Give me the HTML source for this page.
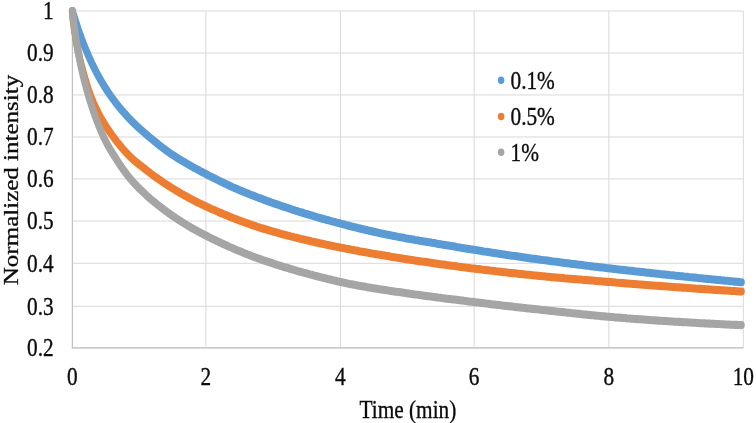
<!DOCTYPE html>
<html><head><meta charset="utf-8"><style>
html,body{margin:0;padding:0;background:#fff;}
body{width:756px;height:423px;overflow:hidden;}
svg{display:block;will-change:transform;}
text{font-family:"Liberation Serif",serif;font-size:21.3px;fill:#0c0c0c;stroke:#0c0c0c;stroke-width:0.3px;}
.g line{stroke:#d9d9d9;stroke-width:1;}
.ax line{stroke:#c2c2c2;stroke-width:1.15;}
.c{fill:none;stroke-width:7.0;stroke-linecap:round;stroke-linejoin:round;}
</style></head><body>
<svg width="756" height="423" viewBox="0 0 756 423">
<rect width="756" height="423" fill="#fff"/>
<g class="g"><line x1="72.4" y1="11.00" x2="743.3" y2="11.00"/><line x1="72.4" y1="53.00" x2="743.3" y2="53.00"/><line x1="72.4" y1="94.95" x2="743.3" y2="94.95"/><line x1="72.4" y1="137.00" x2="743.3" y2="137.00"/><line x1="72.4" y1="178.90" x2="743.3" y2="178.90"/><line x1="72.4" y1="221.00" x2="743.3" y2="221.00"/><line x1="72.4" y1="263.30" x2="743.3" y2="263.30"/><line x1="72.4" y1="306.30" x2="743.3" y2="306.30"/><line x1="72.4" y1="347.90" x2="743.3" y2="347.90"/><line x1="72.40" y1="11.0" x2="72.40" y2="347.9"/><line x1="205.90" y1="11.0" x2="205.90" y2="347.9"/><line x1="340.40" y1="11.0" x2="340.40" y2="347.9"/><line x1="474.15" y1="11.0" x2="474.15" y2="347.9"/><line x1="608.85" y1="11.0" x2="608.85" y2="347.9"/><line x1="743.30" y1="11.0" x2="743.30" y2="347.9"/></g>
<g class="ax"><line x1="72.4" y1="11" x2="72.4" y2="348.5"/><line x1="71.8" y1="347.9" x2="743.3" y2="347.9"/></g>
<g transform="scale(1,1.15)">
<path class="c" stroke="#5b9bd5" d="M72.4 9.6 L72.8 10.7 L73.2 11.9 L73.7 13.1 L74.1 14.3 L74.5 15.5 L74.9 16.7 L75.4 17.8 L75.8 19.0 L76.2 20.1 L76.6 21.3 L77.1 22.4 L77.5 23.5 L77.9 24.6 L78.3 25.7 L78.8 26.8 L79.2 27.8 L79.6 28.9 L80.0 29.9 L80.5 30.9 L80.9 32.0 L81.3 33.0 L81.7 34.0 L82.2 35.0 L82.6 35.9 L83.0 36.9 L83.4 37.9 L83.9 38.8 L84.3 39.7 L84.7 40.7 L85.1 41.6 L85.6 42.5 L86.0 43.4 L86.4 44.3 L86.8 45.2 L87.3 46.0 L87.7 46.9 L88.1 47.8 L88.5 48.6 L89.0 49.4 L89.4 50.3 L89.8 51.1 L90.2 51.9 L90.7 52.7 L91.1 53.5 L91.5 54.3 L91.9 55.1 L92.4 55.9 L92.8 56.6 L93.2 57.4 L93.6 58.1 L94.1 58.9 L94.5 59.6 L94.9 60.4 L95.3 61.1 L95.8 61.8 L96.2 62.5 L96.6 63.2 L97.0 63.9 L97.5 64.6 L97.9 65.3 L98.3 66.0 L98.7 66.6 L99.2 67.3 L99.6 68.0 L100.0 68.6 L100.4 69.3 L100.8 69.9 L101.3 70.5 L101.7 71.2 L102.1 71.8 L102.5 72.4 L103.0 73.0 L103.4 73.6 L103.8 74.2 L104.2 74.8 L104.7 75.4 L105.1 76.0 L105.5 76.6 L105.9 77.2 L107.5 79.3 L109.1 81.4 L110.7 83.4 L112.3 85.3 L113.9 87.2 L115.5 89.1 L117.1 90.8 L118.7 92.6 L120.3 94.3 L121.9 95.9 L123.5 97.5 L125.1 99.1 L126.6 100.6 L128.2 102.1 L129.8 103.6 L131.4 105.0 L133.0 106.4 L134.6 107.7 L136.2 109.1 L137.8 110.4 L139.4 111.6 L141.0 112.9 L142.6 114.1 L144.2 115.3 L145.8 116.5 L147.3 117.7 L148.9 118.8 L150.5 120.0 L152.1 121.1 L153.7 122.3 L155.3 123.4 L156.9 124.5 L158.5 125.7 L160.1 126.8 L161.7 127.8 L163.3 128.9 L164.9 129.9 L166.5 131.0 L168.0 132.0 L169.6 132.9 L171.2 133.9 L172.8 134.8 L174.4 135.7 L176.0 136.6 L177.6 137.5 L179.2 138.3 L180.8 139.2 L182.4 140.0 L184.0 140.8 L185.6 141.6 L187.2 142.4 L188.7 143.2 L190.3 144.0 L191.9 144.8 L193.5 145.6 L195.1 146.3 L196.7 147.1 L198.3 147.8 L199.9 148.6 L201.5 149.3 L203.1 150.0 L204.7 150.8 L206.3 151.5 L207.9 152.2 L209.4 152.9 L211.0 153.6 L212.6 154.3 L214.2 155.0 L215.8 155.7 L217.4 156.4 L219.0 157.1 L220.6 157.8 L222.2 158.4 L223.8 159.1 L225.4 159.8 L227.0 160.4 L228.6 161.1 L230.1 161.7 L231.7 162.4 L233.3 163.0 L234.9 163.6 L236.5 164.2 L238.1 164.8 L239.7 165.4 L241.3 166.0 L242.9 166.5 L244.5 167.1 L246.1 167.7 L247.7 168.2 L249.3 168.8 L250.8 169.3 L252.4 169.9 L254.0 170.4 L255.6 170.9 L257.2 171.5 L258.8 172.0 L260.4 172.5 L262.0 173.0 L263.6 173.6 L265.2 174.1 L266.8 174.6 L268.4 175.1 L270.0 175.6 L271.5 176.1 L273.1 176.6 L274.7 177.1 L276.3 177.5 L277.9 178.0 L279.5 178.5 L281.1 179.0 L282.7 179.4 L284.3 179.9 L285.9 180.4 L287.5 180.8 L289.1 181.3 L290.7 181.7 L292.2 182.2 L293.8 182.6 L295.4 183.1 L297.0 183.5 L298.6 184.0 L300.2 184.4 L301.8 184.8 L303.4 185.2 L305.0 185.7 L306.6 186.1 L308.2 186.5 L309.8 186.9 L311.4 187.3 L312.9 187.8 L314.5 188.2 L316.1 188.6 L317.7 189.0 L319.3 189.4 L320.9 189.8 L322.5 190.2 L324.1 190.5 L325.7 190.9 L327.3 191.3 L328.9 191.7 L330.5 192.1 L332.1 192.5 L333.6 192.8 L335.2 193.2 L336.8 193.6 L338.4 193.9 L340.0 194.3 L341.6 194.7 L343.2 195.0 L344.8 195.4 L346.4 195.8 L348.0 196.1 L349.6 196.5 L351.2 196.8 L352.8 197.2 L354.3 197.5 L355.9 197.8 L357.5 198.2 L359.1 198.5 L360.7 198.9 L362.3 199.2 L363.9 199.5 L365.5 199.8 L367.1 200.2 L368.7 200.5 L370.3 200.8 L371.9 201.1 L373.5 201.5 L375.0 201.8 L376.6 202.1 L378.2 202.4 L379.8 202.7 L381.4 203.0 L383.0 203.3 L384.6 203.6 L386.2 203.9 L387.8 204.2 L389.4 204.4 L391.0 204.7 L392.6 205.0 L394.2 205.3 L395.8 205.5 L397.3 205.8 L398.9 206.1 L400.5 206.3 L402.1 206.6 L403.7 206.8 L405.3 207.1 L406.9 207.3 L408.5 207.6 L410.1 207.8 L411.7 208.1 L413.3 208.3 L414.9 208.6 L416.5 208.8 L418.0 209.0 L419.6 209.3 L421.2 209.5 L422.8 209.8 L424.4 210.0 L426.0 210.2 L427.6 210.5 L429.2 210.7 L430.8 210.9 L432.4 211.2 L434.0 211.4 L435.6 211.6 L437.2 211.9 L438.7 212.1 L440.3 212.3 L441.9 212.6 L443.5 212.8 L445.1 213.0 L446.7 213.3 L448.3 213.5 L449.9 213.7 L451.5 214.0 L453.1 214.2 L454.7 214.4 L456.3 214.7 L457.9 214.9 L459.4 215.1 L461.0 215.4 L462.6 215.6 L464.2 215.9 L465.8 216.1 L467.4 216.3 L469.0 216.5 L470.6 216.8 L472.2 217.0 L473.8 217.2 L475.4 217.4 L477.0 217.7 L478.6 217.9 L480.1 218.1 L481.7 218.3 L483.3 218.6 L484.9 218.8 L486.5 219.0 L488.1 219.2 L489.7 219.4 L491.3 219.6 L492.9 219.9 L494.5 220.1 L496.1 220.3 L497.7 220.5 L499.3 220.7 L500.8 220.9 L502.4 221.1 L504.0 221.3 L505.6 221.5 L507.2 221.7 L508.8 221.9 L510.4 222.1 L512.0 222.3 L513.6 222.5 L515.2 222.7 L516.8 222.9 L518.4 223.1 L520.0 223.3 L521.5 223.5 L523.1 223.7 L524.7 223.9 L526.3 224.1 L527.9 224.3 L529.5 224.5 L531.1 224.7 L532.7 224.9 L534.3 225.1 L535.9 225.3 L537.5 225.5 L539.1 225.7 L540.7 225.9 L542.2 226.0 L543.8 226.2 L545.4 226.4 L547.0 226.6 L548.6 226.8 L550.2 227.0 L551.8 227.2 L553.4 227.3 L555.0 227.5 L556.6 227.7 L558.2 227.9 L559.8 228.1 L561.4 228.2 L562.9 228.4 L564.5 228.6 L566.1 228.8 L567.7 228.9 L569.3 229.1 L570.9 229.3 L572.5 229.5 L574.1 229.6 L575.7 229.8 L577.3 230.0 L578.9 230.2 L580.5 230.3 L582.1 230.5 L583.6 230.7 L585.2 230.8 L586.8 231.0 L588.4 231.2 L590.0 231.4 L591.6 231.5 L593.2 231.7 L594.8 231.9 L596.4 232.0 L598.0 232.2 L599.6 232.4 L601.2 232.5 L602.8 232.7 L604.3 232.8 L605.9 233.0 L607.5 233.2 L609.1 233.3 L610.7 233.5 L612.3 233.7 L613.9 233.8 L615.5 234.0 L617.1 234.1 L618.7 234.3 L620.3 234.5 L621.9 234.6 L623.5 234.8 L625.0 234.9 L626.6 235.1 L628.2 235.2 L629.8 235.4 L631.4 235.5 L633.0 235.7 L634.6 235.9 L636.2 236.0 L637.8 236.2 L639.4 236.3 L641.0 236.5 L642.6 236.6 L644.2 236.8 L645.7 236.9 L647.3 237.1 L648.9 237.2 L650.5 237.4 L652.1 237.5 L653.7 237.7 L655.3 237.8 L656.9 238.0 L658.5 238.1 L660.1 238.3 L661.7 238.4 L663.3 238.6 L664.9 238.7 L666.4 238.9 L668.0 239.0 L669.6 239.2 L671.2 239.3 L672.8 239.4 L674.4 239.6 L676.0 239.7 L677.6 239.9 L679.2 240.0 L680.8 240.2 L682.4 240.3 L684.0 240.5 L685.6 240.6 L687.1 240.7 L688.7 240.9 L690.3 241.0 L691.9 241.2 L693.5 241.3 L695.1 241.4 L696.7 241.6 L698.3 241.7 L699.9 241.9 L701.5 242.0 L703.1 242.1 L704.7 242.3 L706.3 242.4 L707.8 242.6 L709.4 242.7 L711.0 242.8 L712.6 243.0 L714.2 243.1 L715.8 243.2 L717.4 243.4 L719.0 243.5 L720.6 243.6 L722.2 243.8 L723.8 243.9 L725.4 244.1 L727.0 244.2 L728.5 244.3 L730.1 244.5 L731.7 244.6 L733.3 244.7 L734.9 244.9 L736.5 245.0 L738.1 245.1 L739.7 245.3 L741.3 245.4"/>
<path class="c" stroke="#ed7d31" d="M72.4 9.6 L72.8 15.2 L73.2 18.5 L73.7 21.4 L74.1 24.0 L74.5 26.5 L74.9 28.9 L75.4 31.2 L75.8 33.4 L76.2 35.6 L76.6 37.7 L77.1 39.8 L77.5 41.7 L77.9 43.6 L78.3 45.3 L78.8 47.0 L79.2 48.7 L79.6 50.3 L80.0 51.9 L80.5 53.4 L80.9 55.0 L81.3 56.4 L81.7 57.9 L82.2 59.3 L82.6 60.7 L83.0 62.1 L83.4 63.5 L83.9 64.8 L84.3 66.1 L84.7 67.4 L85.1 68.7 L85.6 69.9 L86.0 71.2 L86.4 72.4 L86.8 73.5 L87.3 74.7 L87.7 75.9 L88.1 77.0 L88.5 78.1 L89.0 79.2 L89.4 80.3 L89.8 81.3 L90.2 82.4 L90.7 83.4 L91.1 84.4 L91.5 85.3 L91.9 86.3 L92.4 87.1 L92.8 88.0 L93.2 88.9 L93.6 89.7 L94.1 90.5 L94.5 91.3 L94.9 92.1 L95.3 92.9 L95.8 93.7 L96.2 94.5 L96.6 95.3 L97.0 96.0 L97.5 96.8 L97.9 97.5 L98.3 98.2 L98.7 99.0 L99.2 99.7 L99.6 100.4 L100.0 101.0 L100.4 101.7 L100.8 102.4 L101.3 103.0 L101.7 103.7 L102.1 104.3 L102.5 104.9 L103.0 105.6 L103.4 106.2 L103.8 106.8 L104.2 107.4 L104.7 108.0 L105.1 108.5 L105.5 109.1 L105.9 109.7 L107.5 111.8 L109.1 113.8 L110.7 115.8 L112.3 117.8 L113.9 119.7 L115.5 121.6 L117.1 123.4 L118.7 125.1 L120.3 126.8 L121.9 128.5 L123.5 130.1 L125.1 131.6 L126.6 133.1 L128.2 134.5 L129.8 135.9 L131.4 137.2 L133.0 138.5 L134.6 139.8 L136.2 141.0 L137.8 142.1 L139.4 143.2 L141.0 144.3 L142.6 145.3 L144.2 146.4 L145.8 147.5 L147.3 148.6 L148.9 149.6 L150.5 150.7 L152.1 151.7 L153.7 152.8 L155.3 153.8 L156.9 154.8 L158.5 155.7 L160.1 156.7 L161.7 157.6 L163.3 158.6 L164.9 159.5 L166.5 160.4 L168.0 161.3 L169.6 162.2 L171.2 163.1 L172.8 163.9 L174.4 164.8 L176.0 165.6 L177.6 166.5 L179.2 167.3 L180.8 168.1 L182.4 168.9 L184.0 169.7 L185.6 170.4 L187.2 171.2 L188.7 172.0 L190.3 172.7 L191.9 173.4 L193.5 174.2 L195.1 174.9 L196.7 175.6 L198.3 176.3 L199.9 176.9 L201.5 177.6 L203.1 178.3 L204.7 178.9 L206.3 179.6 L207.9 180.2 L209.4 180.8 L211.0 181.5 L212.6 182.1 L214.2 182.7 L215.8 183.3 L217.4 183.9 L219.0 184.5 L220.6 185.1 L222.2 185.7 L223.8 186.3 L225.4 186.9 L227.0 187.4 L228.6 188.0 L230.1 188.6 L231.7 189.1 L233.3 189.7 L234.9 190.2 L236.5 190.8 L238.1 191.3 L239.7 191.8 L241.3 192.3 L242.9 192.8 L244.5 193.3 L246.1 193.8 L247.7 194.3 L249.3 194.8 L250.8 195.3 L252.4 195.8 L254.0 196.2 L255.6 196.7 L257.2 197.2 L258.8 197.6 L260.4 198.1 L262.0 198.5 L263.6 198.9 L265.2 199.3 L266.8 199.7 L268.4 200.2 L270.0 200.6 L271.5 201.0 L273.1 201.4 L274.7 201.8 L276.3 202.1 L277.9 202.5 L279.5 202.9 L281.1 203.3 L282.7 203.7 L284.3 204.0 L285.9 204.4 L287.5 204.8 L289.1 205.1 L290.7 205.5 L292.2 205.8 L293.8 206.2 L295.4 206.5 L297.0 206.9 L298.6 207.2 L300.2 207.6 L301.8 207.9 L303.4 208.2 L305.0 208.6 L306.6 208.9 L308.2 209.2 L309.8 209.5 L311.4 209.9 L312.9 210.2 L314.5 210.5 L316.1 210.8 L317.7 211.1 L319.3 211.4 L320.9 211.7 L322.5 212.0 L324.1 212.3 L325.7 212.6 L327.3 212.9 L328.9 213.2 L330.5 213.5 L332.1 213.8 L333.6 214.1 L335.2 214.4 L336.8 214.6 L338.4 214.9 L340.0 215.2 L341.6 215.5 L343.2 215.7 L344.8 216.0 L346.4 216.3 L348.0 216.5 L349.6 216.8 L351.2 217.1 L352.8 217.3 L354.3 217.6 L355.9 217.9 L357.5 218.1 L359.1 218.4 L360.7 218.6 L362.3 218.9 L363.9 219.1 L365.5 219.4 L367.1 219.6 L368.7 219.9 L370.3 220.1 L371.9 220.4 L373.5 220.6 L375.0 220.8 L376.6 221.1 L378.2 221.3 L379.8 221.5 L381.4 221.8 L383.0 222.0 L384.6 222.2 L386.2 222.5 L387.8 222.7 L389.4 222.9 L391.0 223.2 L392.6 223.4 L394.2 223.6 L395.8 223.8 L397.3 224.1 L398.9 224.3 L400.5 224.5 L402.1 224.7 L403.7 225.0 L405.3 225.2 L406.9 225.4 L408.5 225.6 L410.1 225.8 L411.7 226.0 L413.3 226.2 L414.9 226.5 L416.5 226.7 L418.0 226.9 L419.6 227.1 L421.2 227.3 L422.8 227.5 L424.4 227.7 L426.0 227.9 L427.6 228.1 L429.2 228.3 L430.8 228.5 L432.4 228.7 L434.0 228.9 L435.6 229.1 L437.2 229.3 L438.7 229.5 L440.3 229.7 L441.9 229.9 L443.5 230.1 L445.1 230.3 L446.7 230.5 L448.3 230.6 L449.9 230.8 L451.5 231.0 L453.1 231.2 L454.7 231.4 L456.3 231.6 L457.9 231.8 L459.4 231.9 L461.0 232.1 L462.6 232.3 L464.2 232.5 L465.8 232.7 L467.4 232.8 L469.0 233.0 L470.6 233.2 L472.2 233.4 L473.8 233.5 L475.4 233.7 L477.0 233.9 L478.6 234.0 L480.1 234.2 L481.7 234.4 L483.3 234.5 L484.9 234.7 L486.5 234.9 L488.1 235.0 L489.7 235.2 L491.3 235.4 L492.9 235.5 L494.5 235.7 L496.1 235.9 L497.7 236.0 L499.3 236.2 L500.8 236.3 L502.4 236.5 L504.0 236.7 L505.6 236.8 L507.2 237.0 L508.8 237.1 L510.4 237.3 L512.0 237.4 L513.6 237.6 L515.2 237.7 L516.8 237.9 L518.4 238.0 L520.0 238.2 L521.5 238.3 L523.1 238.5 L524.7 238.6 L526.3 238.8 L527.9 238.9 L529.5 239.0 L531.1 239.2 L532.7 239.3 L534.3 239.5 L535.9 239.6 L537.5 239.8 L539.1 239.9 L540.7 240.0 L542.2 240.2 L543.8 240.3 L545.4 240.4 L547.0 240.6 L548.6 240.7 L550.2 240.8 L551.8 241.0 L553.4 241.1 L555.0 241.2 L556.6 241.3 L558.2 241.5 L559.8 241.6 L561.4 241.7 L562.9 241.8 L564.5 242.0 L566.1 242.1 L567.7 242.2 L569.3 242.3 L570.9 242.4 L572.5 242.6 L574.1 242.7 L575.7 242.8 L577.3 242.9 L578.9 243.0 L580.5 243.1 L582.1 243.2 L583.6 243.4 L585.2 243.5 L586.8 243.6 L588.4 243.7 L590.0 243.8 L591.6 243.9 L593.2 244.0 L594.8 244.2 L596.4 244.3 L598.0 244.4 L599.6 244.5 L601.2 244.6 L602.8 244.7 L604.3 244.8 L605.9 245.0 L607.5 245.1 L609.1 245.2 L610.7 245.3 L612.3 245.4 L613.9 245.5 L615.5 245.7 L617.1 245.8 L618.7 245.9 L620.3 246.0 L621.9 246.1 L623.5 246.2 L625.0 246.3 L626.6 246.5 L628.2 246.6 L629.8 246.7 L631.4 246.8 L633.0 246.9 L634.6 247.0 L636.2 247.1 L637.8 247.2 L639.4 247.3 L641.0 247.4 L642.6 247.6 L644.2 247.7 L645.7 247.8 L647.3 247.9 L648.9 248.0 L650.5 248.1 L652.1 248.2 L653.7 248.3 L655.3 248.4 L656.9 248.5 L658.5 248.6 L660.1 248.7 L661.7 248.8 L663.3 248.9 L664.9 249.0 L666.4 249.1 L668.0 249.2 L669.6 249.3 L671.2 249.4 L672.8 249.5 L674.4 249.6 L676.0 249.7 L677.6 249.8 L679.2 249.9 L680.8 250.0 L682.4 250.1 L684.0 250.2 L685.6 250.3 L687.1 250.4 L688.7 250.5 L690.3 250.6 L691.9 250.7 L693.5 250.8 L695.1 250.9 L696.7 251.0 L698.3 251.1 L699.9 251.2 L701.5 251.2 L703.1 251.3 L704.7 251.4 L706.3 251.5 L707.8 251.6 L709.4 251.7 L711.0 251.8 L712.6 251.9 L714.2 252.0 L715.8 252.1 L717.4 252.2 L719.0 252.3 L720.6 252.3 L722.2 252.4 L723.8 252.5 L725.4 252.6 L727.0 252.7 L728.5 252.8 L730.1 252.9 L731.7 253.0 L733.3 253.0 L734.9 253.1 L736.5 253.2 L738.1 253.3 L739.7 253.4 L741.3 253.5"/>
<path class="c" stroke="#a5a5a5" d="M72.4 9.6 L72.8 12.7 L73.2 16.0 L73.7 19.1 L74.1 22.0 L74.5 24.9 L74.9 27.6 L75.4 30.2 L75.8 32.7 L76.2 35.2 L76.6 37.5 L77.1 39.8 L77.5 41.9 L77.9 44.0 L78.3 46.1 L78.8 48.1 L79.2 50.0 L79.6 51.9 L80.0 53.7 L80.5 55.5 L80.9 57.2 L81.3 58.9 L81.7 60.6 L82.2 62.2 L82.6 63.8 L83.0 65.4 L83.4 66.9 L83.9 68.4 L84.3 69.9 L84.7 71.3 L85.1 72.8 L85.6 74.2 L86.0 75.5 L86.4 76.9 L86.8 78.2 L87.3 79.5 L87.7 80.8 L88.1 82.1 L88.5 83.4 L89.0 84.6 L89.4 85.8 L89.8 87.1 L90.2 88.2 L90.7 89.4 L91.1 90.6 L91.5 91.7 L91.9 92.9 L92.4 94.0 L92.8 95.1 L93.2 96.2 L93.6 97.3 L94.1 98.3 L94.5 99.4 L94.9 100.4 L95.3 101.4 L95.8 102.5 L96.2 103.5 L96.6 104.4 L97.0 105.4 L97.5 106.4 L97.9 107.3 L98.3 108.3 L98.7 109.2 L99.2 110.1 L99.6 111.0 L100.0 111.9 L100.4 112.8 L100.8 113.7 L101.3 114.5 L101.7 115.4 L102.1 116.2 L102.5 117.0 L103.0 117.9 L103.4 118.7 L103.8 119.5 L104.2 120.2 L104.7 121.0 L105.1 121.7 L105.5 122.5 L105.9 123.2 L107.5 125.8 L109.1 128.2 L110.7 130.6 L112.3 132.9 L113.9 135.1 L115.5 137.3 L117.1 139.5 L118.7 141.7 L120.3 143.8 L121.9 145.8 L123.5 147.7 L125.1 149.6 L126.6 151.4 L128.2 153.2 L129.8 154.9 L131.4 156.5 L133.0 158.1 L134.6 159.7 L136.2 161.2 L137.8 162.6 L139.4 164.0 L141.0 165.4 L142.6 166.7 L144.2 168.0 L145.8 169.3 L147.3 170.6 L148.9 171.8 L150.5 173.0 L152.1 174.1 L153.7 175.3 L155.3 176.4 L156.9 177.6 L158.5 178.7 L160.1 179.7 L161.7 180.8 L163.3 181.9 L164.9 182.9 L166.5 183.9 L168.0 184.9 L169.6 185.9 L171.2 186.9 L172.8 187.8 L174.4 188.8 L176.0 189.7 L177.6 190.6 L179.2 191.5 L180.8 192.4 L182.4 193.3 L184.0 194.2 L185.6 195.0 L187.2 195.9 L188.7 196.7 L190.3 197.5 L191.9 198.3 L193.5 199.1 L195.1 199.9 L196.7 200.6 L198.3 201.4 L199.9 202.1 L201.5 202.9 L203.1 203.6 L204.7 204.3 L206.3 205.0 L207.9 205.7 L209.4 206.4 L211.0 207.1 L212.6 207.8 L214.2 208.4 L215.8 209.1 L217.4 209.8 L219.0 210.4 L220.6 211.1 L222.2 211.7 L223.8 212.4 L225.4 213.0 L227.0 213.6 L228.6 214.3 L230.1 214.9 L231.7 215.5 L233.3 216.1 L234.9 216.7 L236.5 217.3 L238.1 217.9 L239.7 218.4 L241.3 219.0 L242.9 219.6 L244.5 220.2 L246.1 220.7 L247.7 221.3 L249.3 221.8 L250.8 222.3 L252.4 222.9 L254.0 223.4 L255.6 223.9 L257.2 224.4 L258.8 224.9 L260.4 225.4 L262.0 225.9 L263.6 226.4 L265.2 226.8 L266.8 227.3 L268.4 227.8 L270.0 228.2 L271.5 228.7 L273.1 229.1 L274.7 229.6 L276.3 230.0 L277.9 230.5 L279.5 230.9 L281.1 231.3 L282.7 231.8 L284.3 232.2 L285.9 232.6 L287.5 233.0 L289.1 233.5 L290.7 233.9 L292.2 234.3 L293.8 234.7 L295.4 235.1 L297.0 235.5 L298.6 235.9 L300.2 236.3 L301.8 236.7 L303.4 237.1 L305.0 237.4 L306.6 237.8 L308.2 238.2 L309.8 238.6 L311.4 238.9 L312.9 239.3 L314.5 239.7 L316.1 240.0 L317.7 240.4 L319.3 240.7 L320.9 241.1 L322.5 241.4 L324.1 241.8 L325.7 242.1 L327.3 242.5 L328.9 242.8 L330.5 243.1 L332.1 243.5 L333.6 243.8 L335.2 244.1 L336.8 244.4 L338.4 244.8 L340.0 245.1 L341.6 245.4 L343.2 245.7 L344.8 246.0 L346.4 246.3 L348.0 246.6 L349.6 246.9 L351.2 247.1 L352.8 247.4 L354.3 247.7 L355.9 247.9 L357.5 248.2 L359.1 248.5 L360.7 248.7 L362.3 249.0 L363.9 249.2 L365.5 249.4 L367.1 249.7 L368.7 249.9 L370.3 250.1 L371.9 250.4 L373.5 250.6 L375.0 250.8 L376.6 251.0 L378.2 251.3 L379.8 251.5 L381.4 251.7 L383.0 251.9 L384.6 252.1 L386.2 252.3 L387.8 252.5 L389.4 252.8 L391.0 253.0 L392.6 253.2 L394.2 253.4 L395.8 253.6 L397.3 253.8 L398.9 254.0 L400.5 254.2 L402.1 254.4 L403.7 254.6 L405.3 254.8 L406.9 255.0 L408.5 255.2 L410.1 255.4 L411.7 255.6 L413.3 255.8 L414.9 256.0 L416.5 256.2 L418.0 256.4 L419.6 256.6 L421.2 256.8 L422.8 257.0 L424.4 257.2 L426.0 257.4 L427.6 257.5 L429.2 257.7 L430.8 257.9 L432.4 258.1 L434.0 258.3 L435.6 258.5 L437.2 258.6 L438.7 258.8 L440.3 259.0 L441.9 259.2 L443.5 259.3 L445.1 259.5 L446.7 259.7 L448.3 259.9 L449.9 260.0 L451.5 260.2 L453.1 260.4 L454.7 260.5 L456.3 260.7 L457.9 260.9 L459.4 261.1 L461.0 261.2 L462.6 261.4 L464.2 261.6 L465.8 261.7 L467.4 261.9 L469.0 262.1 L470.6 262.3 L472.2 262.4 L473.8 262.6 L475.4 262.8 L477.0 263.0 L478.6 263.1 L480.1 263.3 L481.7 263.5 L483.3 263.6 L484.9 263.8 L486.5 264.0 L488.1 264.1 L489.7 264.3 L491.3 264.5 L492.9 264.7 L494.5 264.8 L496.1 265.0 L497.7 265.2 L499.3 265.3 L500.8 265.5 L502.4 265.6 L504.0 265.8 L505.6 266.0 L507.2 266.1 L508.8 266.3 L510.4 266.4 L512.0 266.6 L513.6 266.8 L515.2 266.9 L516.8 267.1 L518.4 267.2 L520.0 267.4 L521.5 267.5 L523.1 267.7 L524.7 267.8 L526.3 268.0 L527.9 268.2 L529.5 268.3 L531.1 268.5 L532.7 268.6 L534.3 268.7 L535.9 268.9 L537.5 269.0 L539.1 269.2 L540.7 269.3 L542.2 269.5 L543.8 269.6 L545.4 269.8 L547.0 269.9 L548.6 270.1 L550.2 270.2 L551.8 270.4 L553.4 270.5 L555.0 270.7 L556.6 270.8 L558.2 271.0 L559.8 271.1 L561.4 271.3 L562.9 271.4 L564.5 271.6 L566.1 271.7 L567.7 271.9 L569.3 272.0 L570.9 272.2 L572.5 272.3 L574.1 272.5 L575.7 272.6 L577.3 272.8 L578.9 272.9 L580.5 273.1 L582.1 273.2 L583.6 273.4 L585.2 273.5 L586.8 273.6 L588.4 273.8 L590.0 273.9 L591.6 274.1 L593.2 274.2 L594.8 274.3 L596.4 274.5 L598.0 274.6 L599.6 274.7 L601.2 274.9 L602.8 275.0 L604.3 275.1 L605.9 275.2 L607.5 275.4 L609.1 275.5 L610.7 275.6 L612.3 275.7 L613.9 275.8 L615.5 276.0 L617.1 276.1 L618.7 276.2 L620.3 276.3 L621.9 276.4 L623.5 276.5 L625.0 276.6 L626.6 276.8 L628.2 276.9 L629.8 277.0 L631.4 277.1 L633.0 277.2 L634.6 277.3 L636.2 277.4 L637.8 277.5 L639.4 277.6 L641.0 277.7 L642.6 277.8 L644.2 277.9 L645.7 278.0 L647.3 278.1 L648.9 278.2 L650.5 278.3 L652.1 278.4 L653.7 278.5 L655.3 278.6 L656.9 278.7 L658.5 278.8 L660.1 278.9 L661.7 279.0 L663.3 279.1 L664.9 279.2 L666.4 279.2 L668.0 279.3 L669.6 279.4 L671.2 279.5 L672.8 279.6 L674.4 279.7 L676.0 279.8 L677.6 279.8 L679.2 279.9 L680.8 280.0 L682.4 280.1 L684.0 280.2 L685.6 280.3 L687.1 280.3 L688.7 280.4 L690.3 280.5 L691.9 280.6 L693.5 280.7 L695.1 280.7 L696.7 280.8 L698.3 280.9 L699.9 281.0 L701.5 281.0 L703.1 281.1 L704.7 281.2 L706.3 281.3 L707.8 281.3 L709.4 281.4 L711.0 281.5 L712.6 281.5 L714.2 281.6 L715.8 281.7 L717.4 281.8 L719.0 281.8 L720.6 281.9 L722.2 282.0 L723.8 282.0 L725.4 282.1 L727.0 282.2 L728.5 282.2 L730.1 282.3 L731.7 282.4 L733.3 282.4 L734.9 282.5 L736.5 282.5 L738.1 282.6 L739.7 282.7 L741.3 282.7"/>
</g>
<g><text transform="translate(53.6,19.4) scale(1,1.175)" text-anchor="end">1</text><text transform="translate(53.6,61.4) scale(1,1.175)" text-anchor="end">0.9</text><text transform="translate(53.6,103.4) scale(1,1.175)" text-anchor="end">0.8</text><text transform="translate(53.6,145.4) scale(1,1.175)" text-anchor="end">0.7</text><text transform="translate(53.6,187.3) scale(1,1.175)" text-anchor="end">0.6</text><text transform="translate(53.6,229.4) scale(1,1.175)" text-anchor="end">0.5</text><text transform="translate(53.6,271.7) scale(1,1.175)" text-anchor="end">0.4</text><text transform="translate(53.6,314.7) scale(1,1.175)" text-anchor="end">0.3</text><text transform="translate(53.6,356.3) scale(1,1.175)" text-anchor="end">0.2</text></g>
<g><text transform="translate(72.4,384.9) scale(1,1.175)" text-anchor="middle">0</text><text transform="translate(205.9,384.9) scale(1,1.175)" text-anchor="middle">2</text><text transform="translate(340.4,384.9) scale(1,1.175)" text-anchor="middle">4</text><text transform="translate(474.1,384.9) scale(1,1.175)" text-anchor="middle">6</text><text transform="translate(608.9,384.9) scale(1,1.175)" text-anchor="middle">8</text><text transform="translate(743.3,384.9) scale(1,1.175)" text-anchor="middle">10</text></g>
<text transform="translate(407.9,418.2) scale(1,1.175)" text-anchor="middle">Time (min)</text>
<text transform="translate(18.3,180) scale(1,1.175) rotate(-90)" text-anchor="middle">Normalized intensity</text>
<ellipse cx="501.1" cy="80.3" rx="3.25" ry="3.75" fill="#5b9bd5"/><text transform="translate(510.5,89) scale(1,1.175)">0.1%</text>
<ellipse cx="501.1" cy="116.5" rx="3.25" ry="3.75" fill="#ed7d31"/><text transform="translate(510.5,125) scale(1,1.175)">0.5%</text>
<ellipse cx="501.1" cy="152.3" rx="3.25" ry="3.75" fill="#a5a5a5"/><text transform="translate(510.5,160.8) scale(1,1.175)">1%</text>
</svg>
</body></html>
